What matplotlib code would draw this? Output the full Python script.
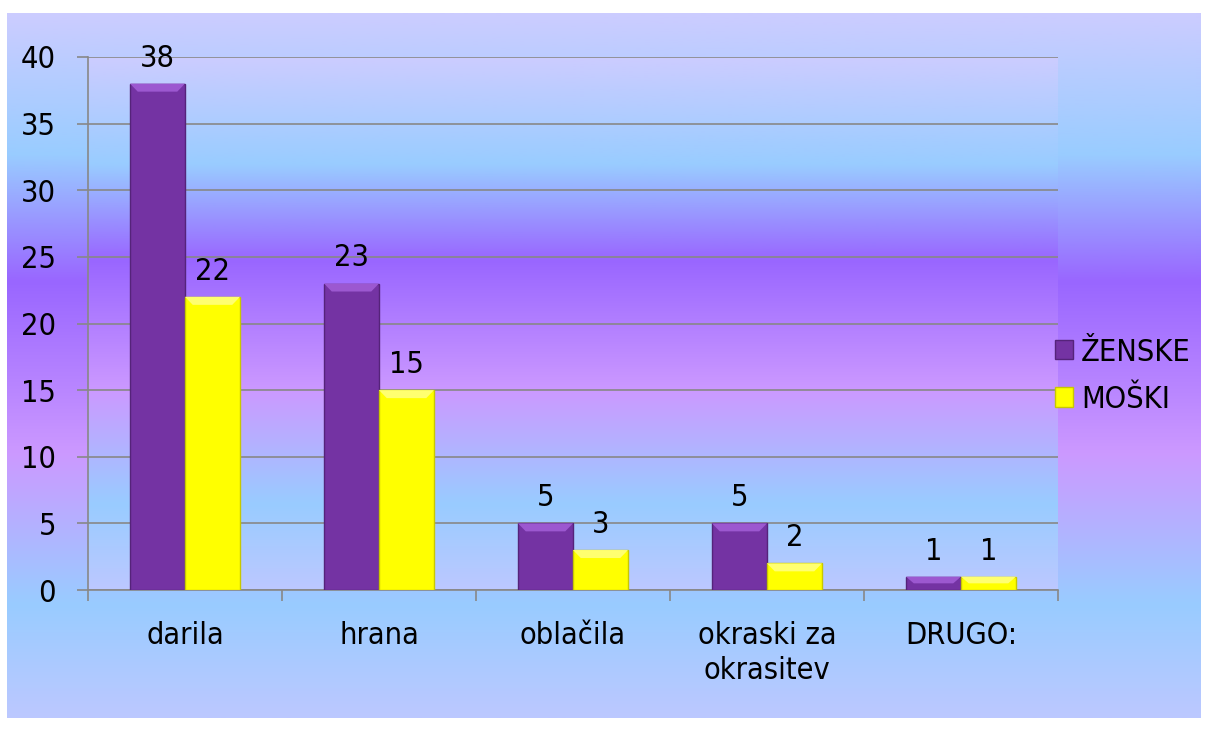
import numpy as np
import matplotlib
matplotlib.use('Agg')
import matplotlib.pyplot as plt
from matplotlib.colors import LinearSegmentedColormap
from matplotlib.patches import Patch

# data
categories = ['darila', 'hrana', 'oblačila', 'okraski za\nokrasitev', 'DRUGO:']
zenske = [38, 23, 5, 5, 1]
moski = [22, 15, 3, 2, 1]
series_names = ['ŽENSKE', 'MOŠKI']
yticks = [0, 5, 10, 15, 20, 25, 30, 35, 40]

plt.rcParams['font.family'] = ['DejaVu Sans']
plt.rcParams['font.stretch'] = 'condensed'
fs = 22

fig = plt.figure(figsize=(12.08, 7.31), dpi=100)

# same gradient is used for the chart area and for the plot area
cm_grad = LinearSegmentedColormap.from_list('grad', [
    (0.0, '#bcc8ff'), (0.16, '#99ccff'), (0.375, '#cc99ff'),
    (0.62, '#9966ff'), (0.80, '#99ccff'), (1.0, '#ccccff')])
grad = np.linspace(0, 1, 256).reshape(-1, 1)

bg = fig.add_axes([7/1208, 13/731, 1194/1208, 705/731])
bg.set_axis_off()
bg.imshow(grad, cmap=cm_grad, origin='lower', aspect='auto', extent=[0, 1, 0, 1])

# plot area
ax = fig.add_axes([88/1208, 141/731, 970/1208, 533/731])
ax.patch.set_alpha(0)
ax.imshow(grad, cmap=cm_grad, origin='lower', aspect='auto',
          extent=[0, 1, 0, 1], transform=ax.transAxes, zorder=0)

x = np.arange(len(categories))
w = 0.2835
bdx = 0.04  # bevel inset (category units)

styles = [
    dict(face='#7433a3', top='#9c58d0', edge='#55237a'),
    dict(face='#ffff00', top='#ffff70', edge='#c8c800'),
]

for vals, off, st in [(zenske, -w/2, styles[0]), (moski, w/2, styles[1])]:
    bars = ax.bar(x + off, vals, w, color=st['face'], edgecolor=st['edge'],
                  linewidth=1, zorder=3)
    # lighter bevel (trapezoid) on top of each bar
    for b, v in zip(bars, vals):
        x0, x1 = b.get_x(), b.get_x() + b.get_width()
        dh = min(v * 0.5, 0.6)
        ax.fill([x0, x1, x1 - bdx, x0 + bdx], [v, v, v - dh, v - dh],
                color=st['top'], lw=0, zorder=4)
        ax.annotate(str(v), (b.get_x() + b.get_width() / 2, v), xytext=(0, 8),
                    textcoords='offset points', ha='center', va='bottom',
                    fontsize=fs, zorder=5)

ax.set_xlim(-0.5, len(categories) - 0.5)
ax.set_ylim(0, 40)
ax.set_yticks(yticks)
ax.set_xticks(x)
ax.set_xticklabels(categories, fontsize=fs, linespacing=1.28)
ax.set_xticks(np.arange(len(categories) + 1) - 0.5, minor=True)
ax.tick_params(axis='x', which='major', length=0, pad=22)
ax.tick_params(axis='x', which='minor', length=8, width=1.2, color='#888888')
ax.tick_params(axis='y', length=8, width=1.2, color='#888888', pad=15,
               labelsize=fs)

ax.grid(axis='y', color='#888888', lw=1.2)
ax.set_axisbelow(True)
for s in ['top', 'right']:
    ax.spines[s].set_visible(False)
for s in ['left', 'bottom']:
    ax.spines[s].set_color('#888888')
    ax.spines[s].set_linewidth(1.2)

handles = [Patch(facecolor=styles[0]['face'], edgecolor=styles[0]['edge']),
           Patch(facecolor=styles[1]['face'], edgecolor=styles[1]['edge'])]
fig.legend(handles, series_names, loc='center left',
           bbox_to_anchor=(1055/1208, 0.486), bbox_transform=fig.transFigure,
           frameon=False, fontsize=fs, handlelength=0.6, handleheight=0.6,
           handletextpad=0.25, labelspacing=0.6, borderpad=0, borderaxespad=0)

plt.savefig('out.png', dpi=100)
